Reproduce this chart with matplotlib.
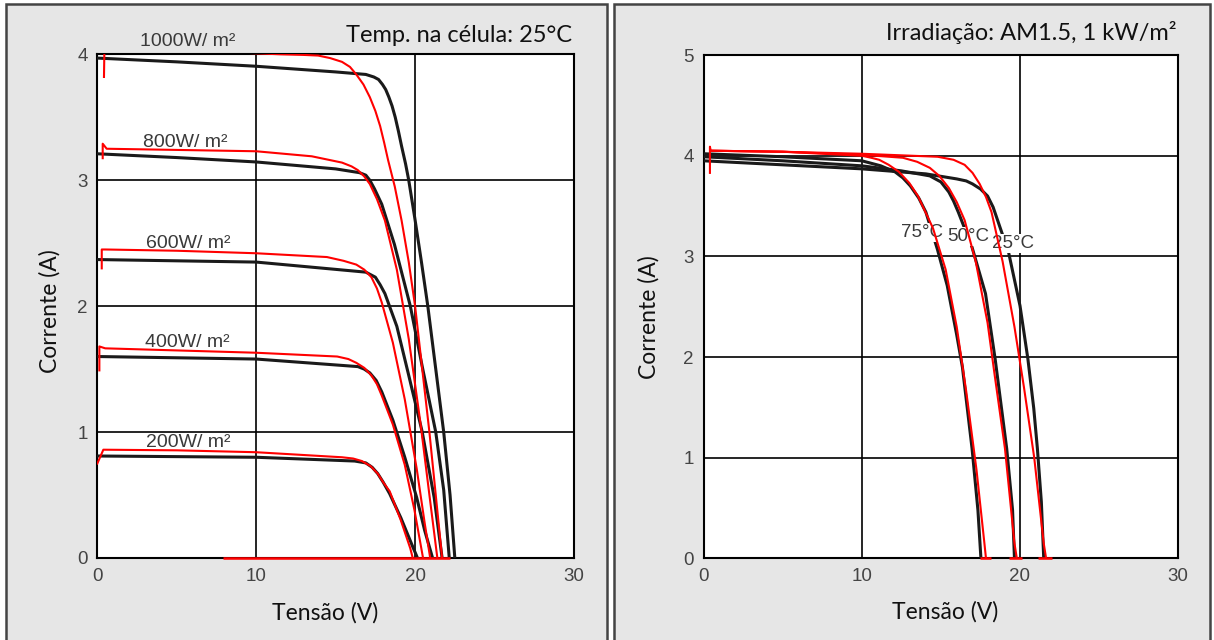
import matplotlib.pyplot as plt
from matplotlib.patches import Rectangle

# ---- left panel: irradiance curves at 25 C (voltage V, current A) ----
irr_labels = ['1000W/ m²', '800W/ m²', '600W/ m²', '400W/ m²', '200W/ m²']
irr_label_v = [2.7, 2.9, 3.06, 3.0, 3.06]
irr_label_i = [4.1, 3.30, 2.50, 1.71, 0.914]

black_1000_v = [0, 5, 10, 15, 16.9, 17.4, 17.7, 17.95, 18.15, 18.35, 18.55, 18.75, 18.95, 19.15, 19.4,
                19.6, 19.98, 20.4, 20.8, 21.3, 21.8, 22.2, 22.5]
black_1000_i = [3.97, 3.94, 3.905, 3.86, 3.84, 3.82, 3.80, 3.76, 3.72, 3.66, 3.59, 3.50, 3.39, 3.27, 3.13,
                3.0, 2.7, 2.35, 2.0, 1.5, 1.0, 0.5, 0]
black_800_v = [0, 5, 10, 15, 16.5, 16.9, 17.15, 17.45, 17.9, 18.7, 19.7, 20.45, 21.3, 21.8, 22.15]
black_800_i = [3.21, 3.18, 3.145, 3.09, 3.06, 3.04, 3.0, 2.93, 2.81, 2.49, 2.0, 1.52, 1.0, 0.54, 0]
black_600_v = [0, 5, 10, 16.9, 17.5, 17.8, 18.1, 18.85, 19.6, 20.45, 21.2, 21.7]
black_600_i = [2.37, 2.36, 2.35, 2.27, 2.23, 2.17, 2.10, 1.84, 1.45, 1.0, 0.48, 0]
black_400_v = [0, 5, 10, 16.4, 16.8, 17.15, 17.55, 17.9, 18.6, 19.35, 20.1, 20.6, 21.1]
black_400_i = [1.60, 1.59, 1.58, 1.52, 1.50, 1.47, 1.41, 1.32, 1.095, 0.80, 0.48, 0.22, 0]
black_200_v = [0, 5, 10, 16.2, 16.9, 17.3, 17.65, 18.0, 18.4, 19.1, 19.85, 20.15]
black_200_i = [0.81, 0.805, 0.80, 0.77, 0.755, 0.72, 0.67, 0.60, 0.51, 0.32, 0.09, 0]

red_1000_v = [0.42, 0.45, 11.5, 13.0, 13.9, 14.65, 15.4, 15.9, 16.3, 16.75, 17.15, 17.5, 17.8, 18.05, 18.3,
              18.72, 19.15, 19.6, 20.0, 20.45, 20.9, 21.3, 21.7]
red_1000_i = [3.82, 4.06, 4.0, 3.995, 3.99, 3.97, 3.94, 3.90, 3.84, 3.76, 3.66, 3.55, 3.43, 3.30, 3.16,
              2.95, 2.68, 2.35, 2.0, 1.5, 1.0, 0.5, 0]
red_800_v = [0.34, 0.34, 0.59, 10, 13.5, 15.4, 16.0, 16.4, 16.8, 17.15, 17.6, 18.1, 18.85, 19.6, 20.35, 20.95, 21.4]
red_800_i = [3.175, 3.29, 3.25, 3.23, 3.19, 3.14, 3.11, 3.08, 3.03, 2.97, 2.85, 2.68, 2.29, 1.74, 1.06, 0.45, 0]
red_600_v = [0.28, 0.28, 0.5, 5, 10, 14.45, 15.5, 16.3, 16.8, 17.25, 17.6, 17.9, 18.6, 19.35, 20.1, 20.6, 20.95]
red_600_i = [2.30, 2.45, 2.45, 2.44, 2.42, 2.39, 2.36, 2.33, 2.29, 2.23, 2.14, 2.03, 1.71, 1.26, 0.71, 0.28, 0]
red_400_v = [0.13, 0.13, 0.5, 10, 15.1, 15.8, 16.3, 16.8, 17.25, 17.6, 17.9, 18.6, 19.35, 19.96, 20.5]
red_400_i = [1.49, 1.68, 1.665, 1.63, 1.60, 1.58, 1.55, 1.51, 1.45, 1.38, 1.29, 1.06, 0.74, 0.38, 0]
red_200_v = [0, 0.38, 5, 10, 15.4, 16.1, 16.65, 17.2, 17.65, 18.0, 18.4, 19.1, 19.7, 19.85]
red_200_i = [0.75, 0.86, 0.855, 0.84, 0.80, 0.79, 0.77, 0.73, 0.67, 0.60, 0.53, 0.30, 0.075, 0]

red_zero_v = [7.9, 22.2]

# ---- right panel: temperature curves at 1 kW/m2 ----
temp_labels = ['75°C', '50°C', '25°C']
temp_label_v = [12.47, 15.4, 18.2]
temp_label_i = [3.24, 3.20, 3.13]

black_25_v = [0, 5, 10, 14.05, 16.0, 16.6, 17.0, 17.5, 17.95, 18.3, 18.8, 19.28, 20.0, 20.5, 20.87, 21.1,
              21.35, 21.5]
black_25_i = [3.95, 3.91, 3.87, 3.82, 3.77, 3.75, 3.72, 3.67, 3.60, 3.49, 3.26, 3.04, 2.51, 1.98, 1.49, 1.09,
              0.56, 0]
black_50_v = [0, 5, 10, 12.5, 14.3, 15.0, 15.5, 15.8, 16.1, 16.97, 17.82, 18.43, 19.16, 19.53, 19.65]
black_50_i = [3.99, 3.95, 3.90, 3.85, 3.80, 3.74, 3.64, 3.55, 3.44, 3.09, 2.63, 1.98, 1.09, 0.48, 0]
black_75_v = [0, 5, 10, 11.2, 12.1, 12.6, 13.07, 13.6, 14.05, 14.78, 15.4, 16.0, 16.36, 16.97, 17.34, 17.53]
black_75_i = [4.02, 3.99, 3.95, 3.90, 3.84, 3.78, 3.70, 3.58, 3.44, 3.07, 2.71, 2.22, 1.90, 1.09, 0.48, 0]

red_25_v = [0.4, 0.4, 0.45, 5, 10, 14.8, 15.8, 16.5, 17.0, 17.45, 17.85, 18.2, 18.9, 19.65, 20.25, 20.9,
            21.5, 21.65]
red_25_i = [3.83, 4.09, 4.05, 4.04, 4.02, 3.99, 3.96, 3.91, 3.83, 3.72, 3.59, 3.44, 2.95, 2.30, 1.70, 1.00,
            0.15, 0]
red_50_v = [0.45, 5, 10, 12.6, 13.5, 14.3, 14.9, 15.5, 16.0, 16.5, 17.2, 17.95, 18.4, 19.05, 19.65, 19.8]
red_50_i = [4.05, 4.04, 4.01, 3.98, 3.94, 3.88, 3.80, 3.68, 3.54, 3.36, 2.95, 2.34, 1.82, 1.09, 0.15, 0]
red_75_v = [0.45, 5, 10, 10.6, 11.1, 11.7, 12.35, 13.0, 13.55, 14.5, 15.3, 16.0, 16.6, 17.25, 17.75, 17.85]
red_75_i = [4.05, 4.04, 4.00, 3.98, 3.96, 3.91, 3.84, 3.73, 3.60, 3.28, 2.87, 2.30, 1.66, 0.88, 0.15, 0]

red_tick_lo = [21.15, 19.3, 17.5]
red_tick_hi = [22.05, 20.1, 18.15]

BLACK = '#1a1a1a'
RED = '#ff0000'
TICK_GRAY = '#444444'
HELV = 'Liberation Sans'
LABEL_FONT = 'Lato'


def style_axes(ax, ymax):
    ax.set_xlim(0, 30)
    ax.set_ylim(0, ymax)
    ax.set_xticks([0, 10, 20, 30])
    ax.set_yticks(range(ymax + 1))
    ax.set_facecolor('white')
    ax.grid(True, color='black', lw=1.2)
    ax.set_axisbelow(True)
    for s in ax.spines.values():
        s.set_color('black')
        s.set_linewidth(1.5)
    ax.tick_params(length=0, pad=7, labelsize=13.5, labelcolor=TICK_GRAY)
    for lab in ax.get_xticklabels() + ax.get_yticklabels():
        lab.set_fontfamily(HELV)


fig = plt.figure(figsize=(12.14, 6.4), dpi=100, facecolor='white')

# panel frames
W, H = 1214.0, 640.0
for x0, x1 in [(5.5, 607), (613.5, 1210)]:
    fig.patches.append(Rectangle((x0 / W, -0.05), (x1 - x0) / W, 1.05 - 4 / H,
                                 transform=fig.transFigure, facecolor='#e6e6e6',
                                 edgecolor='#444444', lw=1.8, zorder=-1))

# left panel
ax1 = fig.add_axes([97.3 / W, 1 - 558 / H, 476.7 / W, 503.7 / H])
style_axes(ax1, 4)
blacks = [(black_1000_v, black_1000_i), (black_800_v, black_800_i), (black_600_v, black_600_i),
          (black_400_v, black_400_i), (black_200_v, black_200_i)]
reds = [(red_1000_v, red_1000_i), (red_800_v, red_800_i), (red_600_v, red_600_i),
        (red_400_v, red_400_i), (red_200_v, red_200_i)]
for v, i in blacks:
    ax1.plot(v, i, color=BLACK, lw=2.2, zorder=3)
for v, i in reds:
    ax1.plot(v, i, color=RED, lw=1.5, zorder=4)
ax1.hlines(0, red_zero_v[0], red_zero_v[1], color=RED, lw=1.8, zorder=5, clip_on=False)
for txt, v, i in zip(irr_labels, irr_label_v, irr_label_i):
    ax1.text(v, i, txt, ha='left', va='center', fontsize=14, family=HELV,
             color='#3a3a3a', clip_on=False, zorder=6)
ax1.set_ylabel('Corrente (A)', family=LABEL_FONT, fontsize=16.5, color='#111111')
ax1.yaxis.set_label_coords(-0.076, 0.49)
ax1.set_xlabel('Tensão (V)', family=LABEL_FONT, fontsize=16.5, color='#111111')
ax1.xaxis.set_label_coords(0.478, -0.088)

# right panel
ax2 = fig.add_axes([703.6 / W, 1 - 558.4 / H, 474.6 / W, 503.3 / H])
style_axes(ax2, 5)
for v, i in [(black_25_v, black_25_i), (black_50_v, black_50_i), (black_75_v, black_75_i)]:
    ax2.plot(v, i, color=BLACK, lw=2.2, zorder=3)
for txt, v, i in zip(temp_labels, temp_label_v, temp_label_i):
    ax2.text(v, i, txt, ha='left', va='center', fontsize=13.5, family=HELV, color='#3a3a3a',
             zorder=3.5, bbox=dict(facecolor='white', edgecolor='none', pad=0.5))
for v, i in [(red_25_v, red_25_i), (red_50_v, red_50_i), (red_75_v, red_75_i)]:
    ax2.plot(v, i, color=RED, lw=1.5, zorder=4)
ax2.hlines([0] * len(red_tick_lo), red_tick_lo, red_tick_hi, color=RED, lw=1.8, zorder=5, clip_on=False)
ax2.set_ylabel('Corrente (A)', family=LABEL_FONT, fontsize=16.5, color='#111111')
ax2.yaxis.set_label_coords(-0.092, 0.48)
ax2.set_xlabel('Tensão (V)', family=LABEL_FONT, fontsize=16.5, color='#111111')
ax2.xaxis.set_label_coords(0.509, -0.084)

# panel titles
fig.text(572 / W, 1 - 35 / H, 'Temp. na célula: 25°C', ha='right', va='center',
         family=LABEL_FONT, fontsize=17, color='#111111')
fig.text(1177 / W, 1 - 33 / H, 'Irradiação: AM1.5, 1 kW/m²', ha='right', va='center',
         family=LABEL_FONT, fontsize=17, color='#111111')

fig.savefig('out.png', dpi=100, facecolor=fig.get_facecolor())
